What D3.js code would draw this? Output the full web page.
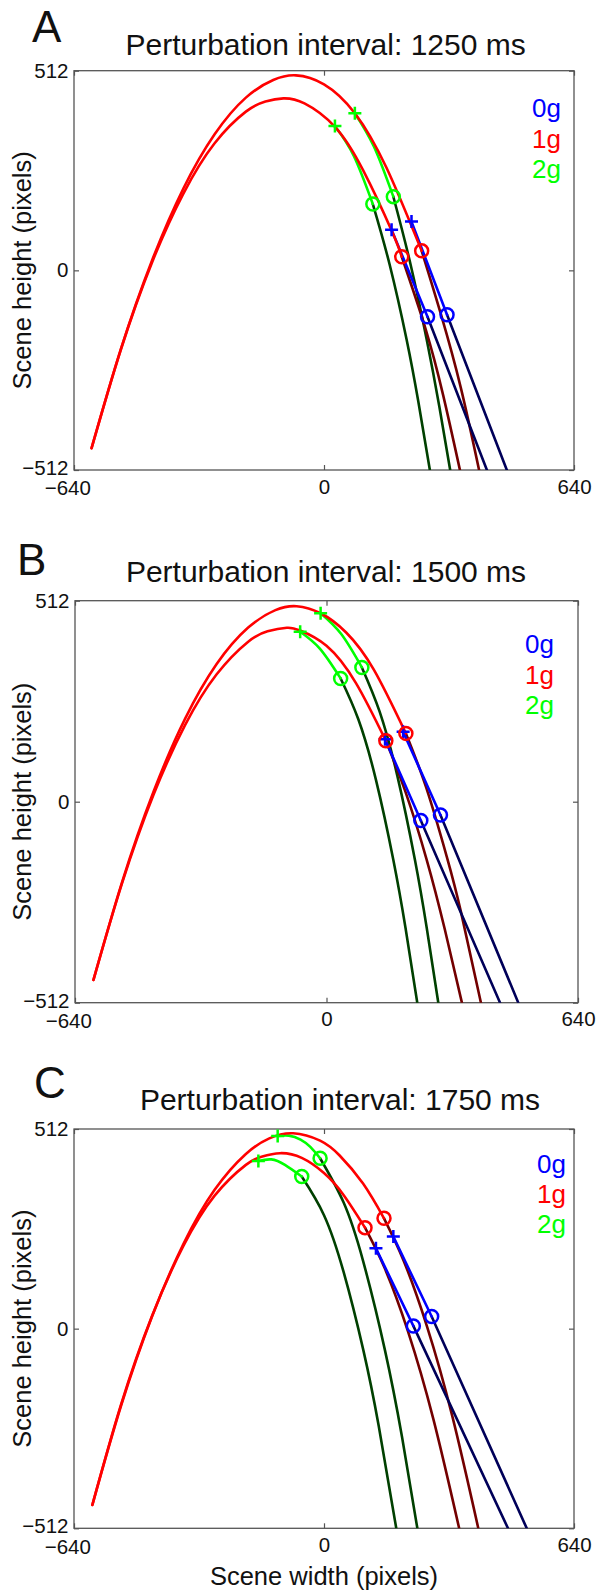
<!DOCTYPE html>
<html><head><meta charset="utf-8">
<script src="https://cdn.jsdelivr.net/npm/d3@7"></script>
<style>body{margin:0;background:#fff}svg{display:block}</style>
</head><body><svg id="c" width="598" height="1591"></svg>
<script>
// ---------- labels / categories ----------
const panelLetters = ["A", "B", "C"];
const intervals = [1250, 1500, 1750];
const legendLabels = ["0g", "1g", "2g"];
const xTicks = [-640, 0, 640];
const yTicks = [-512, 0, 512];

// ---------- Panel A (1250 ms) : [upper, lower] trajectories ----------
const redA = [
  [[-595,-456],[-520,-202],[-440,26],[-360,210],[-280,349],[-200,443],[-130,488],[-72,500],[0,477],[79,403],[160,263],[250,50]],
  [[-595,-456],[-520,-203],[-440,21],[-360,197],[-280,326],[-200,407],[-150,433],[-104,441],[-50,428],[28,368],[100,257],[173,102],[199,35]]
];
const darkRedA = [
  [[250,50],[300,-115],[350,-300],[397,-512]],
  [[199,35],[260,-150],[305,-320],[348,-512]]
];
const greenA = [
  [[79,403],[128,317],[177.5,189]],
  [[28,370],[76,294],[125,170]]
];
const darkGreenA = [
  [[177.5,189],[220,22],[263,-178],[295,-348],[323,-512]],
  [[125,170],[168,15],[211.7,-178.5],[241,-334],[271,-512]]
];
const blueA = [[[224,125],[315,-114]], [[173,104],[265,-119]]];
const navyA = [[[315,-114],[468,-512]], [[265,-119],[417,-512]]];
const plusGreenA = [[79,403],[28,370]];
const plusBlueA = [[224,125],[173,104]];
const circGreenA = [[177.5,189],[125,170]];
const circRedA = [[250,50],[199,35]];
const circBlueA = [[315,-114],[265,-119]];

// ---------- Panel B (1500 ms) ----------
const redB = [
  [[-593,-454],[-520,-204],[-440,26],[-360,211],[-280,350],[-200,443],[-130,488],[-76,498],[-15,480],[50,431],[120,337],[202,174]],
  [[-593,-454],[-520,-207],[-440,18],[-360,195],[-280,324],[-200,407],[-150,434],[-101,443],[-67,436],[0,397],[75,302],[151,155]]
];
const darkRedB = [
  [[202,174],[254,35],[306,-140],[342,-280],[393,-512]],
  [[151,155],[201,25],[255,-148],[301,-325],[344.6,-512]]
];
const greenB = [
  [[-15,480],[37.5,427],[90,342]],
  [[-67,433],[-17,390],[36,314]]
];
const darkGreenB = [
  [[90,342],[135,230],[180,67],[225,-148],[255,-321],[284.5,-512]],
  [[36,314],[81,210],[126,55],[170,-148],[201,-321],[231,-512]]
];
const blueB = [[[195,178],[290,-34]], [[149,159],[240,-48]]];
const navyB = [[[290,-34],[488,-512]], [[240,-48],[441.6,-512]]];
const plusGreenB = [[-15,480],[-67,433]];
const plusBlueB = [[195,178],[149,159]];
const circGreenB = [[90,342],[36,314]];
const circRedB = [[202,174],[151,155]];
const circBlueB = [[290,-34],[240,-48]];

// ---------- Panel C (1750 ms) ----------
const redC = [
  [[-593,-452],[-520,-199],[-440,32],[-360,217],[-280,356],[-200,448],[-140,488],[-79,501],[-10,482],[40,444],[100,372],[153.6,283]],
  [[-593,-452],[-520,-196],[-440,33],[-360,212],[-280,341],[-200,420],[-160,441],[-112.6,450],[-57,438],[0,399],[50,343],[105,259]]
];
const darkRedC = [
  [[153.6,283],[203.6,175],[263.6,6],[328.6,-225],[395,-512]],
  [[105,259],[155,156],[215,-7],[280,-232],[346,-512]]
];
const greenC = [
  [[-118.6,494],[-90,495],[-60,485],[-35,466],[-10,437]],
  [[-168,430],[-135,434],[-100,420],[-57,390]]
];
const darkGreenC = [
  [[-10,437],[50,324],[100,174],[156,-55],[200,-279],[239,-512]],
  [[-57,390],[0,291],[50,146],[100.7,-55],[140,-249],[185,-512]]
];
const blueC = [[[177.5,236],[275.6,31]], [[133,206],[228.7,7]]];
const navyC = [[[275.6,31],[519,-512]], [[228.7,7],[471,-512]]];
const plusGreenC = [[-118.6,494],[-168,430]];
const plusBlueC = [[177.5,236],[133,206]];
const circGreenC = [[-10,437],[-57,390]];
const circRedC = [[153.6,283],[105,259]];
const circBlueC = [[275.6,31],[228.7,7]];

// ---------- assemble ----------
const panelData = [
  {red:redA, darkRed:darkRedA, green:greenA, darkGreen:darkGreenA, blue:blueA, navy:navyA,
   plusG:plusGreenA, plusB:plusBlueA, circG:circGreenA, circR:circRedA, circB:circBlueA},
  {red:redB, darkRed:darkRedB, green:greenB, darkGreen:darkGreenB, blue:blueB, navy:navyB,
   plusG:plusGreenB, plusB:plusBlueB, circG:circGreenB, circR:circRedB, circB:circBlueB},
  {red:redC, darkRed:darkRedC, green:greenC, darkGreen:darkGreenC, blue:blueC, navy:navyC,
   plusG:plusGreenC, plusB:plusBlueC, circG:circGreenC, circR:circRedC, circB:circBlueC}
];

const layouts = [
  {left:74, right:574, top:70.7, bottom:470, letterX:32, letterY:42, titleX:325.6, titleY:55, legX:532, legY:[116.7,148.3,178.3], xlabel:false},
  {left:75, right:578, top:600.7, bottom:1002.7, letterX:17, letterY:575, titleX:326, titleY:581.7, legX:525, legY:[653,684,714], xlabel:false},
  {left:74, right:574, top:1129, bottom:1528.3, letterX:34, letterY:1098, titleX:340, titleY:1110, legX:537, legY:[1173,1203,1233], xlabel:true}
];

const COL = {red:"#ff0000", green:"#00ff00", blue:"#0000ff", darkRed:"#730000", darkGreen:"#004000", navy:"#000059"};
const legendColors = [COL.blue, COL.red, COL.green];
const FONT = "'Liberation Sans', Arial, Helvetica, sans-serif";
const LW = 2.6;

const svg = d3.select("#c");
svg.append("rect").attr("width",598).attr("height",1591).attr("fill","#fff");

panelData.forEach((pd, i) => {
  const L = layouts[i];
  const x = d3.scaleLinear().domain([-640, 640]).range([L.left, L.right]);
  const y = d3.scaleLinear().domain([-512, 512]).range([L.bottom, L.top]);
  const g = svg.append("g");

  const clipId = "clip" + i;
  g.append("clipPath").attr("id", clipId).append("rect")
    .attr("x", L.left).attr("y", L.top).attr("width", L.right - L.left).attr("height", L.bottom - L.top);

  // axes (ticks inward)
  const fmt = d3.format("d");
  const axB = g.append("g").attr("transform", `translate(0,${L.bottom})`)
    .call(d3.axisBottom(x).tickValues(xTicks).tickSize(-5).tickSizeOuter(0).tickPadding(9).tickFormat(fmt));
  const axL = g.append("g").attr("transform", `translate(${L.left},0)`)
    .call(d3.axisLeft(y).tickValues(yTicks).tickSize(-5).tickSizeOuter(0).tickPadding(5.5).tickFormat(fmt));
  g.append("g").attr("transform", `translate(0,${L.top})`)
    .call(d3.axisTop(x).tickValues(xTicks).tickSize(-5).tickSizeOuter(0).tickFormat(""));
  g.append("g").attr("transform", `translate(${L.right},0)`)
    .call(d3.axisRight(y).tickValues(yTicks).tickSize(-5).tickSizeOuter(0).tickFormat(""));
  g.selectAll(".domain").remove();
  g.selectAll(".tick line").attr("stroke", "#555").attr("stroke-width", 1.2);
  [axB, axL].forEach(a => a.selectAll("text")
    .attr("font-family", FONT).attr("font-size", 20.5).attr("fill", "#111"));
  axB.selectAll("text").attr("dx", d => d < 0 ? "-0.33em" : 0)
    .attr("dy", d => d < 0 ? "0.8em" : "0.71em");
  axL.selectAll("text").attr("dy", d => d < 0 ? "0.22em" : "0.32em");

  g.append("rect").attr("x", L.left).attr("y", L.top)
    .attr("width", L.right - L.left).attr("height", L.bottom - L.top)
    .attr("fill", "none").attr("stroke", "#555").attr("stroke-width", 1.3);

  // curves
  const line = d3.line().x(d => x(d[0])).y(d => y(d[1])).curve(d3.curveNatural);
  const straight = d3.line().x(d => x(d[0])).y(d => y(d[1]));
  const plot = g.append("g").attr("clip-path", `url(#${clipId})`)
    .attr("fill", "none").attr("stroke-width", LW).attr("stroke-linecap", "round").attr("stroke-linejoin", "round");

  const draw = (arr, gen, color) => arr.forEach(d => plot.append("path").attr("d", gen(d)).attr("stroke", color));
  draw(pd.darkGreen, line, COL.darkGreen);
  draw(pd.darkRed, line, COL.darkRed);
  draw(pd.navy, straight, COL.navy);
  draw(pd.blue, straight, COL.blue);
  draw(pd.green, line, COL.green);
  draw(pd.red, line, COL.red);

  // markers
  const mk = g.append("g").attr("fill", "none").attr("stroke-width", 2.5);
  const circles = (arr, color) => arr.forEach(d => mk.append("circle")
    .attr("cx", x(d[0])).attr("cy", y(d[1])).attr("r", 6.5).attr("stroke", color));
  const pluses = (arr, color) => arr.forEach(d => {
    const cx = x(d[0]), cy = y(d[1]), s = 6.5;
    mk.append("path").attr("d", `M${cx - s},${cy}H${cx + s}M${cx},${cy - s}V${cy + s}`).attr("stroke", color);
  });
  pluses(pd.plusG, COL.green);
  pluses(pd.plusB, COL.blue);
  circles(pd.circG, COL.green);
  circles(pd.circR, COL.red);
  circles(pd.circB, COL.blue);

  // legend
  legendLabels.forEach((lab, k) => {
    g.append("text").attr("x", L.legX).attr("y", L.legY[k]).text(lab)
      .attr("font-family", FONT).attr("font-size", 26).attr("fill", legendColors[k]);
  });

  // title, letter, labels
  g.append("text").attr("x", L.titleX).attr("y", L.titleY).attr("text-anchor", "middle")
    .attr("font-family", FONT).attr("font-size", 30).attr("fill", "#111")
    .text(`Perturbation interval: ${intervals[i]} ms`);
  g.append("text").attr("x", L.letterX).attr("y", L.letterY)
    .attr("font-family", FONT).attr("font-size", 44).attr("fill", "#111").text(panelLetters[i]);
  const cy = (L.top + L.bottom) / 2;
  g.append("text").attr("transform", `translate(31,${cy}) rotate(-90)`).attr("text-anchor", "middle")
    .attr("font-family", FONT).attr("font-size", 25.5).attr("fill", "#111").text("Scene height (pixels)");
  if (L.xlabel) {
    g.append("text").attr("x", (L.left + L.right) / 2).attr("y", L.bottom + 56.7).attr("text-anchor", "middle")
      .attr("font-family", FONT).attr("font-size", 25.5).attr("fill", "#111").text("Scene width (pixels)");
  }
});
</script></body></html>
